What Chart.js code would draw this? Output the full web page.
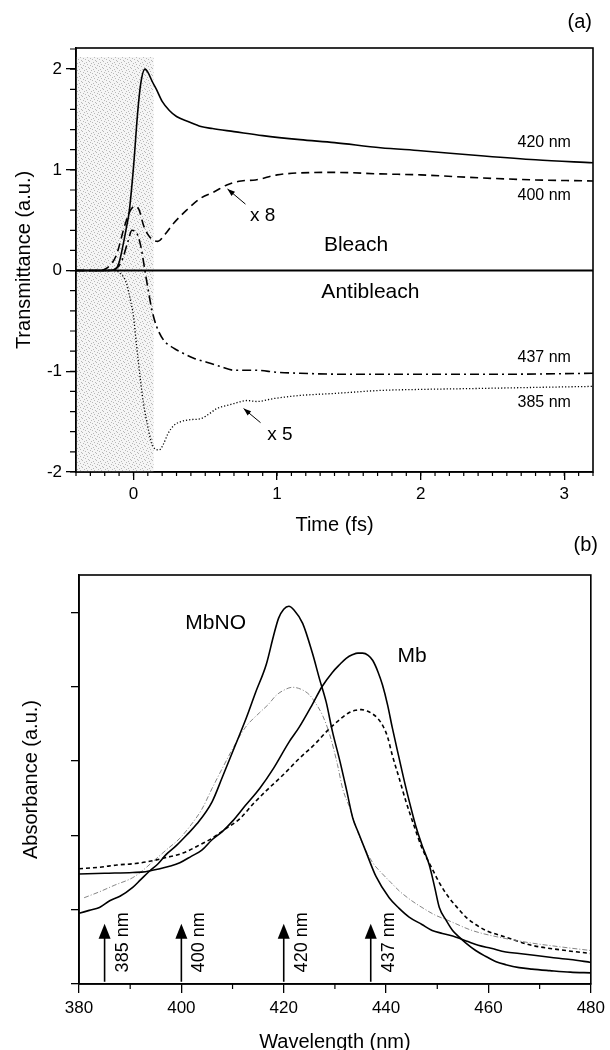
<!DOCTYPE html>
<html><head><meta charset="utf-8">
<script src="https://cdn.jsdelivr.net/npm/chart.js@4.4.1/dist/chart.umd.min.js"></script>
<style>
html,body{margin:0;padding:0;background:#fff;overflow:hidden;width:610px;height:1050px}
#cA{position:absolute;left:0;top:0}
#cB{position:absolute;left:0;top:520px}
</style></head><body>
<canvas id="cA" width="610" height="540"></canvas>
<canvas id="cB" width="610" height="545"></canvas>
<script>
// ---- (a) transmitancia vs tiempo ----
const t420=[-0.4,-0.2,-0.13,-0.1,-0.07,-0.05,-0.03,0,0.03,0.05,0.08,0.1,0.13,0.16,0.2,0.25,0.3,0.38,0.47,0.55,0.7,0.9,1.16,1.4,1.72,2.0,2.42,2.8,3.2];
const v420=[0,0,0.01,0.08,0.27,0.42,0.58,1.02,1.58,1.85,2.0,1.97,1.88,1.8,1.68,1.59,1.53,1.48,1.43,1.41,1.38,1.34,1.3,1.27,1.22,1.19,1.14,1.1,1.07];
const t400=[-0.4,-0.25,-0.18,-0.12,-0.06,-0.02,0.01,0.04,0.07,0.1,0.14,0.17,0.22,0.28,0.37,0.47,0.56,0.65,0.75,0.85,1.0,1.16,1.4,1.72,2.0,2.42,2.8,3.2];
const v400=[0,0,0.03,0.15,0.45,0.6,0.64,0.6,0.45,0.36,0.3,0.29,0.36,0.47,0.6,0.72,0.78,0.85,0.89,0.9,0.95,0.97,0.975,0.96,0.95,0.92,0.9,0.89];
const t437=[-0.4,-0.2,-0.12,-0.08,-0.04,-0.01,0.02,0.05,0.08,0.1,0.13,0.16,0.21,0.28,0.33,0.42,0.51,0.6,0.7,0.85,1.0,1.16,1.5,2.0,2.5,3.2];
const v437=[0,0,0.02,0.1,0.28,0.4,0.38,0.25,0.0,-0.17,-0.4,-0.55,-0.69,-0.77,-0.81,-0.87,-0.91,-0.95,-0.99,-0.99,-1.01,-1.02,-1.03,-1.03,-1.03,-1.02];
const t385=[-0.4,-0.15,-0.09,-0.05,-0.02,0,0.02,0.05,0.07,0.1,0.12,0.15,0.18,0.21,0.24,0.28,0.33,0.4,0.47,0.53,0.58,0.65,0.7,0.79,0.86,0.98,1.16,1.4,1.72,2.0,2.42,2.8,3.2];
const v385=[0,0,-0.03,-0.12,-0.3,-0.45,-0.72,-1.1,-1.32,-1.55,-1.68,-1.77,-1.78,-1.72,-1.62,-1.54,-1.5,-1.48,-1.47,-1.42,-1.37,-1.34,-1.32,-1.29,-1.3,-1.27,-1.24,-1.22,-1.19,-1.18,-1.17,-1.16,-1.15];
const ticksTiempo=[0,1,2,3];
const ticksTrans=[-2,-1,0,1,2];
const sombraT=[-0.4,0.14];   // pulso (zona punteada)
const sombraV=[-2,2.12];

// ---- (b) espectros de absorcion ----
const wlMbNO=[380,382,384,386,388,390.5,392,393.8,395.5,397,399,401,403,406,408,410,412.7,414.5,416.6,418,419,420,421,422,423.7,425.6,427,428.3,429.5,431,432.3,433.5,434.5,436,438,440.6,442.5,444.5,447,449,451,453.7,456,458,460.5,463.4,466,468.5,472,476,480];
const absMbNO=[0.95,0.99,1.03,1.12,1.18,1.3,1.4,1.52,1.62,1.74,1.86,2.0,2.15,2.45,2.78,3.12,3.58,3.92,4.3,4.68,4.92,5.04,5.08,5.03,4.85,4.45,4.1,3.79,3.4,2.99,2.6,2.23,2.05,1.79,1.45,1.16,1.02,0.9,0.8,0.72,0.68,0.63,0.57,0.52,0.48,0.43,0.41,0.39,0.36,0.33,0.29];
const wlMb=[380,385,390.5,393,395.8,397.5,399.7,402,404,406,408,410,412.5,415.3,418,421,423,425.6,427.5,429.5,431,432.2,433.5,434.5,435.4,436.5,437.4,438.4,439.3,440.3,441.2,442.5,443.9,445,445.9,447,448.4,449.5,450.4,451.8,453,454.3,455.6,457.5,459.5,461.5,463.4,466,468.5,472,476,480];
const absMb=[1.48,1.49,1.5,1.51,1.55,1.58,1.63,1.72,1.8,1.94,2.05,2.19,2.4,2.63,2.9,3.25,3.45,3.76,4.0,4.19,4.3,4.38,4.43,4.45,4.45,4.42,4.35,4.2,4.02,3.75,3.45,3.05,2.63,2.33,2.1,1.87,1.61,1.3,1.03,0.85,0.72,0.63,0.55,0.45,0.37,0.3,0.26,0.22,0.2,0.18,0.16,0.15];
const wlGris=[381,384,387,390.5,392.5,394.5,397,399.7,402,404,406,408,410,412.5,415.3,417,418.5,420,421.7,423.5,425,426,427.6,429,430.5,431.5,433,434.2,436,437.5,439.3,441,442.6,445,447,449.5,452.3,456.8,462,468.5,474,480];
const absGris=[1.16,1.24,1.33,1.43,1.53,1.65,1.8,1.96,2.15,2.35,2.63,2.9,3.16,3.45,3.65,3.76,3.88,3.95,3.99,3.96,3.89,3.8,3.61,3.35,2.95,2.63,2.35,2.09,1.8,1.62,1.48,1.36,1.25,1.12,1.03,0.93,0.85,0.72,0.63,0.55,0.5,0.45];
const wlTraz=[380,384,387.4,391,393.8,397,400.3,403,406,408.5,411.4,414,416.6,420,423,426,428.3,430.5,432.8,434,435.2,436.3,437.4,438.4,439.3,440.3,441.2,442.5,443.9,445.5,447,449,450.5,452.3,454,455.6,457.5,459.5,463.4,468.5,474,480];
const absTraz=[1.55,1.57,1.6,1.62,1.65,1.7,1.76,1.85,1.96,2.08,2.22,2.42,2.6,2.82,3.03,3.22,3.39,3.53,3.65,3.68,3.69,3.67,3.63,3.57,3.48,3.32,3.08,2.78,2.45,2.12,1.83,1.55,1.35,1.16,1.02,0.9,0.8,0.72,0.63,0.52,0.46,0.41];
const ticksWl=[380,400,420,440,460,480];
const ticksAbs=[0,1,2,3,4,5];
const flechasWl=[385,400,420,437];
const flechaAbs=[0.03,0.81];

const FONT="'Liberation Sans', Arial, Helvetica, sans-serif";
const pares=(xs,ys)=>xs.map((x,i)=>({x,y:ys[i]}));

function linea(data,dash,w,col){
  return {data,borderColor:col||'#000',borderWidth:w,borderDash:dash,pointRadius:0,fill:false,cubicInterpolationMode:'monotone'};
}
function eje(min,max,ticks,largo,pad,ancho,alto,titulo,tpad,labels){
  const o={type:'linear',min,max,
    afterBuildTicks:s=>{s.ticks=ticks.map(v=>({value:v}));},
    ticks:{display:labels,color:'#000',font:{family:FONT,size:17},padding:pad,maxRotation:0,autoSkip:false},
    grid:{drawOnChartArea:false,drawTicks:true,tickLength:largo,color:'#000',lineWidth:1.3},
    border:{display:true,color:'#000',width:1.6},
    title:{display:true,text:titulo,color:'#000',font:{family:FONT,size:20},padding:tpad}};
  if(ancho)o.afterFit=s=>{s.width=ancho;};
  if(alto)o.afterFit=s=>{s.height=alto;};
  return o;
}

// marco, ticks menores, sombreado y anotaciones
function pluginFigura(cfg){
  return {id:'figura',
    beforeDatasetsDraw(chart){
      const {ctx}=chart,sx=chart.scales.x,sy=chart.scales.y;
      if(cfg.sombra){
        const p=document.createElement('canvas');p.width=p.height=7;
        const g=p.getContext('2d');g.fillStyle='#f5f5f5';g.fillRect(0,0,7,7);g.fillStyle='#b8b8b8';
        [[0,0],[3,1],[6,2],[1,3],[4,4],[2,6],[5,5]].forEach(([a,b])=>g.fillRect(a,b,1,1));
        const x0=sx.getPixelForValue(cfg.sombra.t[0]),x1=sx.getPixelForValue(cfg.sombra.t[1]);
        const y0=sy.getPixelForValue(cfg.sombra.v[1]),y1=sy.getPixelForValue(cfg.sombra.v[0]);
        ctx.save();ctx.fillStyle=ctx.createPattern(p,'repeat');ctx.fillRect(x0,y0,x1-x0,y1-y0);ctx.restore();
      }
    },
    afterDraw(chart){
      const {ctx,chartArea:a}=chart,sx=chart.scales.x,sy=chart.scales.y;
      ctx.save();
      ctx.strokeStyle='#000';ctx.fillStyle='#000';ctx.lineWidth=1.6;
      ctx.strokeRect(a.left,a.top,a.right-a.left,a.bottom-a.top);
      ctx.lineWidth=1.2;ctx.beginPath();
      (cfg.menores||[]).forEach(m=>{
        const n=Math.round((m.hasta-m.desde)/m.paso);
        for(let i=0;i<=n;i++){
          const v=m.desde+i*m.paso;
          if(m.eje==='x'){const px=sx.getPixelForValue(v);ctx.moveTo(px,a.bottom);ctx.lineTo(px,a.bottom+m.largo);}
          else{const py=sy.getPixelForValue(v);ctx.moveTo(a.left-m.largo,py);ctx.lineTo(a.left,py);}
        }
      });
      ctx.stroke();
      ctx.textAlign='center';ctx.textBaseline='middle';
      (cfg.textos||[]).forEach(t=>{
        ctx.font=t.size+'px '+FONT;
        ctx.fillText(t.t,sx.getPixelForValue(t.x),sy.getPixelForValue(t.y));
      });
      (cfg.flechas||[]).forEach(f=>{
        const x1=sx.getPixelForValue(f.x1),y1=sy.getPixelForValue(f.y1),x2=sx.getPixelForValue(f.x2),y2=sy.getPixelForValue(f.y2);
        const ang=Math.atan2(y2-y1,x2-x1);
        ctx.lineWidth=1;ctx.beginPath();ctx.moveTo(x1,y1);ctx.lineTo(x2,y2);ctx.stroke();
        ctx.beginPath();ctx.moveTo(x2,y2);
        ctx.lineTo(x2-8*Math.cos(ang-0.35),y2-8*Math.sin(ang-0.35));
        ctx.lineTo(x2-8*Math.cos(ang+0.35),y2-8*Math.sin(ang+0.35));ctx.closePath();ctx.fill();
      });
      if(cfg.verticales){
        const V=cfg.verticales;
        V.wl.forEach(w=>{
          const px=sx.getPixelForValue(w),yb=sy.getPixelForValue(V.y[0]),yt=sy.getPixelForValue(V.y[1]);
          ctx.lineWidth=1.6;ctx.beginPath();ctx.moveTo(px,yb);ctx.lineTo(px,yt+12);ctx.stroke();
          ctx.beginPath();ctx.moveTo(px,yt);ctx.lineTo(px-6,yt+15);ctx.lineTo(px+6,yt+15);ctx.closePath();ctx.fill();
          ctx.save();ctx.translate(px+18,sy.getPixelForValue(V.ly));ctx.rotate(-Math.PI/2);
          ctx.font='18px '+FONT;ctx.fillText(w+' nm',0,0);ctx.restore();
        });
      }
      if(cfg.panel){ctx.font='20px '+FONT;ctx.textAlign='right';ctx.fillText(cfg.panel.t,cfg.panel.x,cfg.panel.y);}
      ctx.restore();
    }};
}

const base={responsive:false,animation:false,devicePixelRatio:1,
  plugins:{legend:{display:false},tooltip:{enabled:false}}};

new Chart(document.getElementById('cA'),{
  type:'line',
  data:{datasets:[
    linea([{x:-0.4,y:0},{x:3.2,y:0}],[],2),
    linea(pares(t420,v420),[],1.6),
    linea(pares(t400,v400),[8,5],1.6),
    linea(pares(t437,v437),[9,4,2,4],1.6),
    linea(pares(t385,v385),[1.2,2],1.3)
  ]},
  options:{...base,layout:{padding:{left:0,right:17,top:48,bottom:0}},
    scales:{
      x:eje(-0.4,3.2,ticksTiempo,8,4,0,68,'Time (fs)',{top:0,bottom:3},true),
      y:eje(-2,2.21,ticksTrans,10,4,76,0,'Transmittance (a.u.)',{top:12,bottom:0},true)
    }},
  plugins:[pluginFigura({
    sombra:{t:sombraT,v:sombraV},
    menores:[{eje:'x',desde:-0.4,hasta:3.2,paso:0.1,largo:4},{eje:'y',desde:-2,hasta:2.2,paso:0.2,largo:6}],
    textos:[{t:'420 nm',x:2.86,y:1.27,size:16},{t:'400 nm',x:2.86,y:0.74,size:16},
      {t:'437 nm',x:2.86,y:-0.86,size:16},{t:'385 nm',x:2.86,y:-1.31,size:16},
      {t:'Bleach',x:1.55,y:0.25,size:21},{t:'Antibleach',x:1.65,y:-0.21,size:21},
      {t:'x 8',x:0.9,y:0.54,size:19},{t:'x 5',x:1.02,y:-1.63,size:19}],
    flechas:[{x1:0.78,y1:0.66,x2:0.655,y2:0.81},{x1:0.885,y1:-1.51,x2:0.767,y2:-1.37}],
    panel:{t:'(a)',x:592,y:22}
  })]
});

new Chart(document.getElementById('cB'),{
  type:'line',
  data:{datasets:[
    linea(pares(wlMbNO,absMbNO),[],1.6),
    linea(pares(wlMb,absMb),[],1.6),
    linea(pares(wlGris,absGris),[5,2,1,2],0.9,'#777'),
    linea(pares(wlTraz,absTraz),[4,3],1.6)
  ]},
  options:{...base,layout:{padding:{left:0,right:17,top:55,bottom:0}},
    scales:{
      x:eje(380,480,ticksWl,9,5,0,81,'Wavelength (nm)',{top:0,bottom:11},true),
      y:eje(0,5.5,ticksAbs,8,4,79,0,'Absorbance (a.u.)',{top:19,bottom:0},false)
    }},
  plugins:[pluginFigura({
    menores:[{eje:'x',desde:390,hasta:470,paso:20,largo:5}],
    textos:[{t:'MbNO',x:406.7,y:4.85,size:21},{t:'Mb',x:445.1,y:4.41,size:21}],
    verticales:{wl:flechasWl,y:flechaAbs,ly:0.56},
    panel:{t:'(b)',x:598,y:25}
  })]
});
</script></body></html>
